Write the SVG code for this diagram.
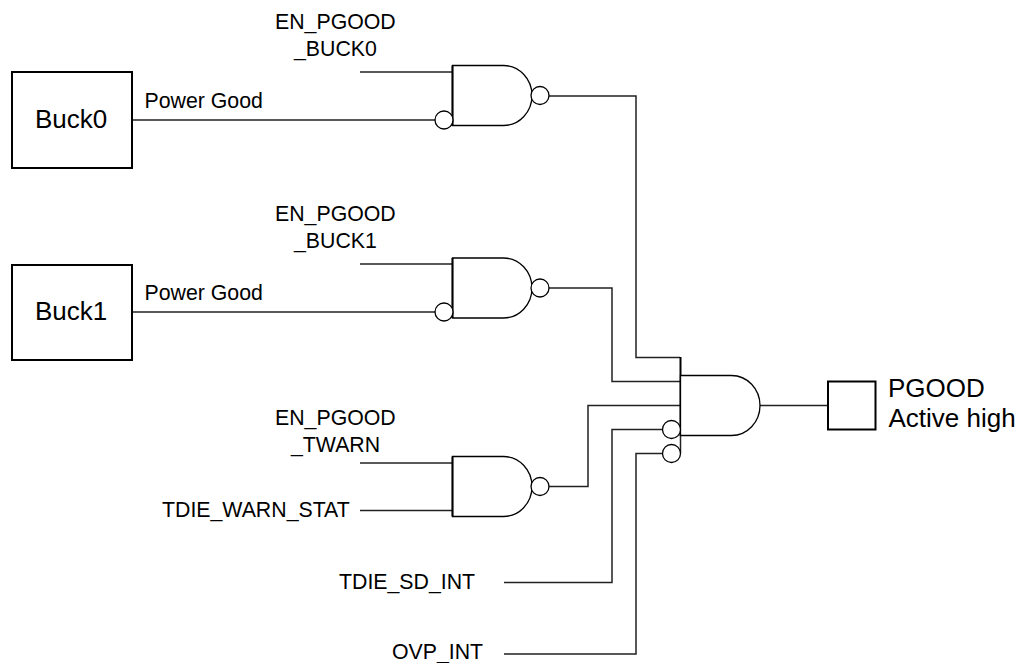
<svg xmlns="http://www.w3.org/2000/svg" width="1018" height="663" viewBox="0 0 1018 663">
<style>
text{font-family:"Liberation Sans",Arial,sans-serif;fill:#000}
.s{font-size:21.300px}.l{font-size:26px}
.g{fill:#fff;stroke:#000;stroke-width:1.3}
.bar{fill:none;stroke:#000;stroke-width:2}
.c{fill:none;stroke:#222;stroke-width:1.500}
.b{fill:#fff;stroke:#000;stroke-width:1.300}
</style>
<defs>
<g id="nand"><path class="g" d="M0 0H51A28.500 30 0 0 1 51 60H0Z"/><path class="bar" d="M0 0V60"/><circle class="b" cx="87.500" cy="30" r="9"/></g>
<g id="and"><path class="g" d="M0 0H51A28.500 30 0 0 1 51 60H0Z"/></g>
</defs>
<rect width="1018" height="663" fill="#fff"/>
<g id="connectors">
<path class="c" d="M360 72H453"/>
<path class="c" d="M133 120H435"/>
<path class="c" d="M360 264H453"/>
<path class="c" d="M133 312H435"/>
<path class="c" d="M360 463H453"/>
<path class="c" d="M360 510.500H453"/>
<path class="c" d="M549 96H636V357.500H680"/>
<path class="c" d="M549 288H612V381.500H680"/>
<path class="c" d="M549 486.500H588V405.500H680"/>
<path class="c" d="M504 582.500H612V429.500H663"/>
<path class="c" d="M504 654H636V453.500H663"/>
<path class="c" d="M759 405.500H828"/>
<path class="bar" d="M680.500 357V436"/>
<path class="c" d="M680.500 436V453"/>
</g>
<g id="buck0"><rect x="12" y="72" width="120" height="96" fill="#fff" stroke="#000" stroke-width="2"/><text class="l" x="35" y="128">Buck0</text></g>
<g id="buck1"><rect x="12" y="265" width="120" height="95" fill="#fff" stroke="#000" stroke-width="2"/><text class="l" x="35" y="320">Buck1</text></g>
<g id="label-pg0"><text class="s" x="144.500" y="108">Power Good</text></g>
<g id="label-pg1"><text class="s" x="144.500" y="300">Power Good</text></g>
<g id="gate0"><use href="#nand" x="452.500" y="65.500"/><circle class="b" cx="444" cy="120" r="9"/></g>
<g id="gate1"><use href="#nand" x="452.500" y="258"/><circle class="b" cx="444" cy="312" r="9"/></g>
<g id="gate2"><use href="#nand" x="452.500" y="456.500"/></g>
<g id="gate-and"><use href="#and" x="680.500" y="375.500"/><circle class="b" cx="671.500" cy="429.500" r="9"/><circle class="b" cx="671.500" cy="453.500" r="9"/></g>
<g id="pgood-box"><rect x="828" y="381.500" width="47.500" height="48" fill="#fff" stroke="#000" stroke-width="2"/></g>
<g id="labels">
<text class="s" x="275" y="29">EN_PGOOD</text><text class="s" x="294" y="56">_BUCK0</text>
<text class="s" x="275" y="221">EN_PGOOD</text><text class="s" x="294" y="248">_BUCK1</text>
<text class="s" x="275" y="425">EN_PGOOD</text><text class="s" x="291" y="452">_TWARN</text>
<text class="s" x="162" y="517">TDIE_WARN_STAT</text>
<text class="s" x="339" y="589">TDIE_SD_INT</text>
<text class="s" x="392" y="658.500">OVP_INT</text>
<text class="l" x="888" y="397">PGOOD</text><text class="l" x="888.500" y="427">Active high</text>
</g>
</svg>
